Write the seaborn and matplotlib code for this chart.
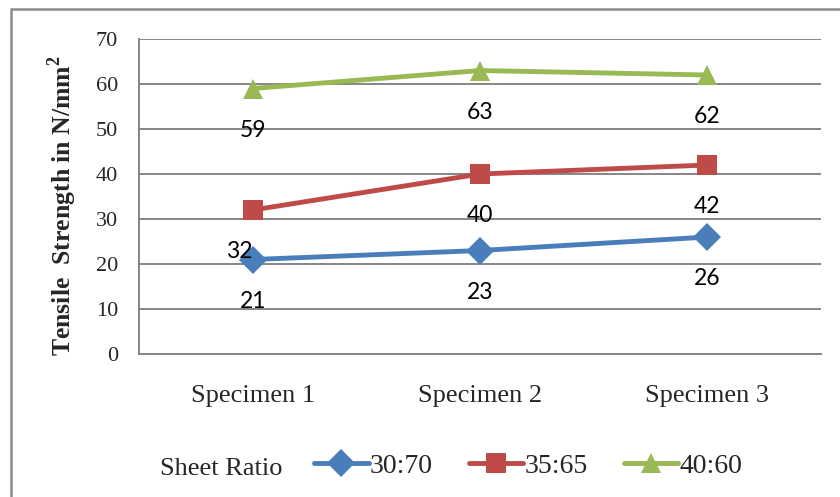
import matplotlib
matplotlib.use("Agg")
import matplotlib.pyplot as plt
import matplotlib.patches as mpatches
import pandas as pd
import seaborn as sns

specimens = ["Specimen 1", "Specimen 2", "Specimen 3"]
ratios = ["30:70", "35:65", "40:60"]
strength_30_70 = [21, 23, 26]
strength_35_65 = [32, 40, 42]
strength_40_60 = [59, 63, 62]

colors = {"30:70": "#4A7EBB", "35:65": "#BE4B48", "40:60": "#98B954"}
markers = {"30:70": "D", "35:65": "s", "40:60": "^"}

# long-form table for seaborn
rows = []
for ratio, vals in zip(ratios, [strength_30_70, strength_35_65, strength_40_60]):
    for i, (spec, v) in enumerate(zip(specimens, vals)):
        rows.append({"pos": i, "Specimen": spec, "Ratio": ratio, "Strength": v})
df = pd.DataFrame(rows)

sns.set_style("white")
plt.rcParams["font.family"] = ["Liberation Serif", "DejaVu Serif"]

fig = plt.figure(figsize=(8.4, 4.97), dpi=100)
ax = fig.add_axes([0.1655, 0.2877, 0.8119, 0.6338])

sns.lineplot(data=df, x="pos", y="Strength", hue="Ratio", style="Ratio",
             palette=colors, markers=markers, dashes=False, linewidth=3.5,
             markersize=14, markeredgewidth=0, ax=ax, zorder=3)

# data labels below each point (the 32 label sits a bit to the left)
for _, r in df.iterrows():
    dx = -10 if (r["Ratio"] == "35:65" and r["pos"] == 0) else 0
    ax.annotate(str(r["Strength"]), (r["pos"], r["Strength"]),
                xytext=(dx, -30), textcoords="offset points",
                ha="center", va="center", fontsize=16.5,
                family=["Lato", "DejaVu Sans"], color="black")

ax.set_xlim(-0.5, 2.5)
ax.set_ylim(0, 70)
ax.set_yticks(range(0, 71, 10))
ax.set_xticks(range(len(specimens)))
ax.set_xticklabels(specimens)
ax.set_xticks([-0.5, 0.5, 1.5, 2.5], minor=True)
ax.tick_params(axis="x", which="major", length=0, pad=22, labelsize=19)
ax.tick_params(axis="x", which="minor", length=6, width=1.3, color="#868686", direction="out")
ax.tick_params(axis="y", length=6, width=1.3, color="#868686", labelsize=16, pad=9)
ax.yaxis.grid(True, color="#868686", linewidth=1.4)
ax.set_axisbelow(True)
for s in ["top", "right"]:
    ax.spines[s].set_visible(False)
for s in ["left", "bottom"]:
    ax.spines[s].set_color("#868686")
    ax.spines[s].set_linewidth(1.4)

ax.set_xlabel("")
ax.set_ylabel("Tensile  Strength in N/mm$^\\mathregular{2}$", fontsize=18.5,
              fontweight="bold")
ax.yaxis.set_label_coords(-0.088, 0.47)

handles, labels = ax.get_legend_handles_labels()
ax.get_legend().remove()
fig.legend(handles, labels, loc="center", bbox_to_anchor=(0.629, 0.062), ncol=3,
           frameon=False, fontsize=20, handlelength=1.95, columnspacing=1.3,
           handletextpad=0.05)
fig.text(0.263, 0.056, "Sheet Ratio", ha="center", va="center", fontsize=19)

# outer chart border
fig.patches.append(mpatches.Rectangle((11 / 840, -0.1), 1.2, 0.982 + 0.1,
                                      transform=fig.transFigure, fill=False,
                                      edgecolor="#8c8c8c", linewidth=1.8))

fig.savefig("out.png", dpi=100)
